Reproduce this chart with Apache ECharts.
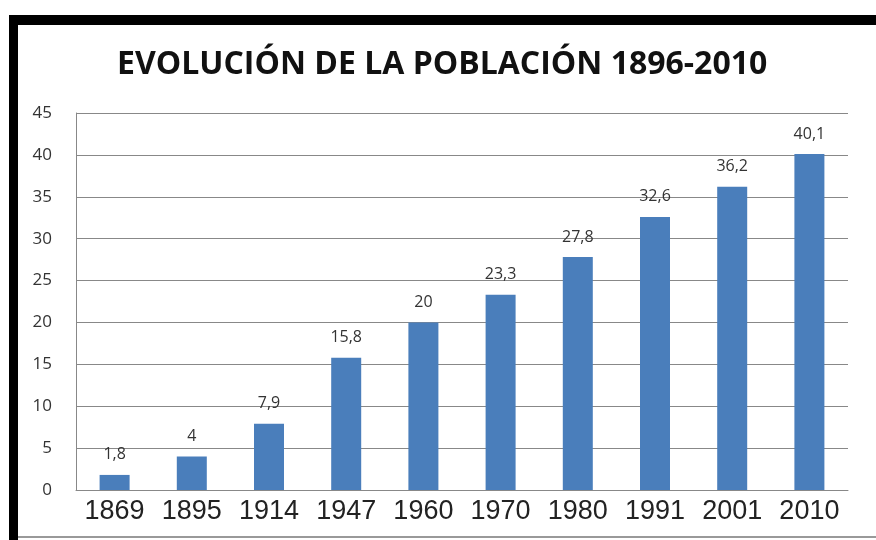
<!DOCTYPE html>
<html>
<head>
<meta charset="utf-8">
<script src="https://cdn.jsdelivr.net/npm/echarts@6/dist/echarts.min.js"></script>
<style>
  html, body { margin: 0; padding: 0; background: #fff; }
  #chart { width: 876px; height: 540px; }
</style>
</head>
<body>
<div id="chart"></div>
<script>
// datos de la gráfica
var years = ['1869', '1895', '1914', '1947', '1960', '1970', '1980', '1991', '2001', '2010'];
var poblacion = [1.8, 4, 7.9, 15.8, 20, 23.3, 27.8, 32.6, 36.2, 40.1];
var titulo = 'EVOLUCIÓN DE LA POBLACIÓN 1896-2010';

var Chart = echarts.init(document.getElementById('chart'));
Chart.setOption({
    animation: false,
    title: {
        text: titulo,
        left: 112,
        top: 44,
        textStyle: {
            color: '#111',
            fontSize: 32,
            fontWeight: 'bold',
            fontFamily: 'Open Sans'
        }
    },
    graphic: [
        // marco negro arriba e izquierda
        { type: 'rect', shape: { x: 9, y: 15, width: 867, height: 10 }, style: { fill: '#000' } },
        { type: 'rect', shape: { x: 9, y: 15, width: 9, height: 525 }, style: { fill: '#000' } },
        { type: 'rect', shape: { x: 18, y: 536, width: 858, height: 2 }, style: { fill: '#999' } }
    ],
    grid: {
        left: 76,
        right: 28,
        top: 113,
        bottom: 50
    },
    xAxis: {
        type: 'category',
        data: years,
        axisLine: { lineStyle: { color: '#888' } },
        axisTick: { show: false },
        axisLabel: {
            interval: 0,
            margin: 8,
            color: '#222',
            fontSize: 27,
            fontFamily: 'Liberation Sans'
        }
    },
    yAxis: {
        type: 'value',
        min: 0,
        max: 45,
        interval: 5,
        axisLine: { show: true, lineStyle: { color: '#888' } },
        axisTick: { show: false },
        splitLine: { lineStyle: { color: '#888' } },
        axisLabel: {
            margin: 24,
            color: '#333',
            fontSize: 17,
            fontFamily: 'Open Sans'
        }
    },
    series: [
        {
            type: 'bar',
            barWidth: 30,
            data: poblacion,
            itemStyle: { color: '#4a7ebb' },
            label: {
                show: true,
                position: 'top',
                distance: 12,
                color: '#333',
                fontSize: 16,
                fontFamily: 'Open Sans',
                formatter: function (p) {
                    return String(p.value).replace('.', ',');
                }
            }
        }
    ]
});
</script>
</body>
</html>
